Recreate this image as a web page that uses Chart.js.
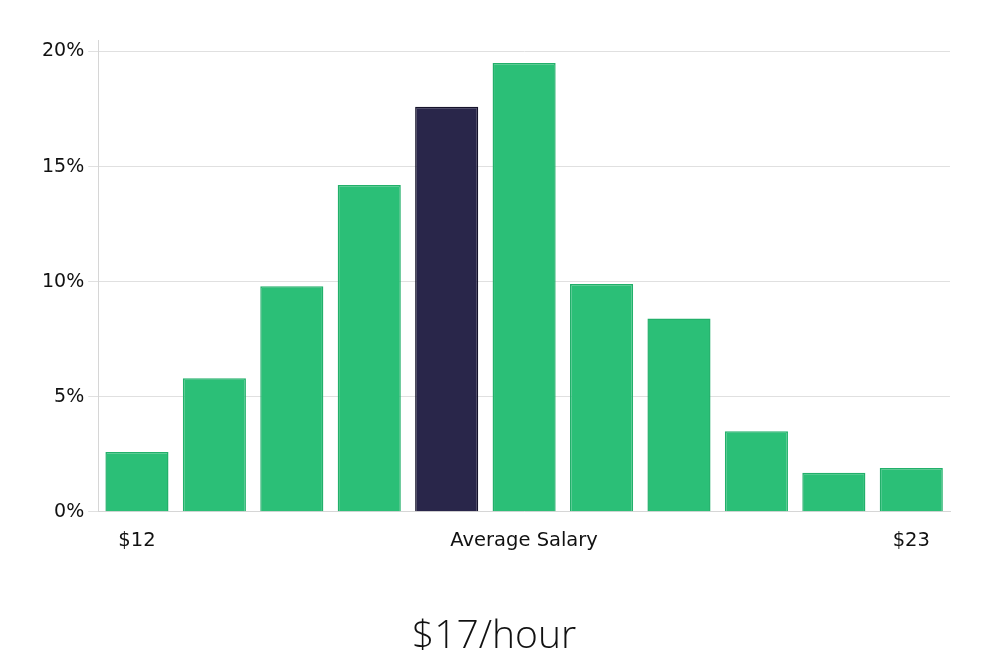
<!DOCTYPE html>
<html>
<head>
<meta charset="utf-8">
<script src="https://cdn.jsdelivr.net/npm/chart.js@4"></script>
<style>
  html, body { margin: 0; padding: 0; background: #fff; }
  #wrap { width: 1000px; height: 660px; }
</style>
</head>
<body>
<div id="wrap"><canvas id="chart" width="1000" height="660"></canvas></div>
<script>
const bins = ["$12", "", "", "", "", "Average Salary", "", "", "", "", "$23"];
const shares = [2.6, 5.8, 9.8, 14.2, 17.6, 19.5, 9.9, 8.4, 3.5, 1.7, 1.9];
const highlightIndex = 4;
const yTicks = [0, 5, 10, 15, 20];
const headline = "$17/hour";

const green = "#2bbf77";
const greenEdge = "#22b06a";
const navy = "#29264a";
const navyEdge = "#15132b";

new Chart(document.getElementById("chart"), {
    type: 'bar',
    data: {
        labels: bins,
        datasets: [{
            data: shares,
            backgroundColor: shares.map((v, i) => i === highlightIndex ? navy : green),
            borderColor: shares.map((v, i) => i === highlightIndex ? navyEdge : greenEdge),
            borderWidth: 1.5,
            categoryPercentage: 1,
            barPercentage: 0.815
        }]
    },
    options: {
        responsive: false,
        animation: false,
        events: [],
        layout: { padding: { left: 38, right: 50, top: 40, bottom: 0 } },
        plugins: {
            legend: { display: false },
            tooltip: { enabled: false },
            title: {
                display: true,
                text: headline,
                position: 'bottom',
                color: '#111',
                font: { family: "'Open Sans', sans-serif", size: 39, weight: 300 },
                padding: { top: 44, bottom: 0 }
            }
        },
        scales: {
            x: {
                grid: { display: false, drawTicks: false },
                border: { color: '#d6d6d6' },
                ticks: {
                    autoSkip: false,
                    maxRotation: 0,
                    padding: 17,
                    color: '#111',
                    font: { family: "'DejaVu Sans', sans-serif", size: 19.5 }
                }
            },
            y: {
                min: 0,
                max: 20.5,
                afterBuildTicks: axis => {
                    axis.ticks = yTicks.map(v => ({ value: v }));
                },
                grid: { color: '#e0e0e0', tickLength: 10, tickColor: '#e0e0e0' },
                border: { color: '#d6d6d6' },
                ticks: {
                    padding: 4,
                    color: '#111',
                    font: { family: "'DejaVu Sans', sans-serif", size: 19 },
                    callback: v => v + '%'
                }
            }
        }
    }
});
</script>
</body>
</html>
